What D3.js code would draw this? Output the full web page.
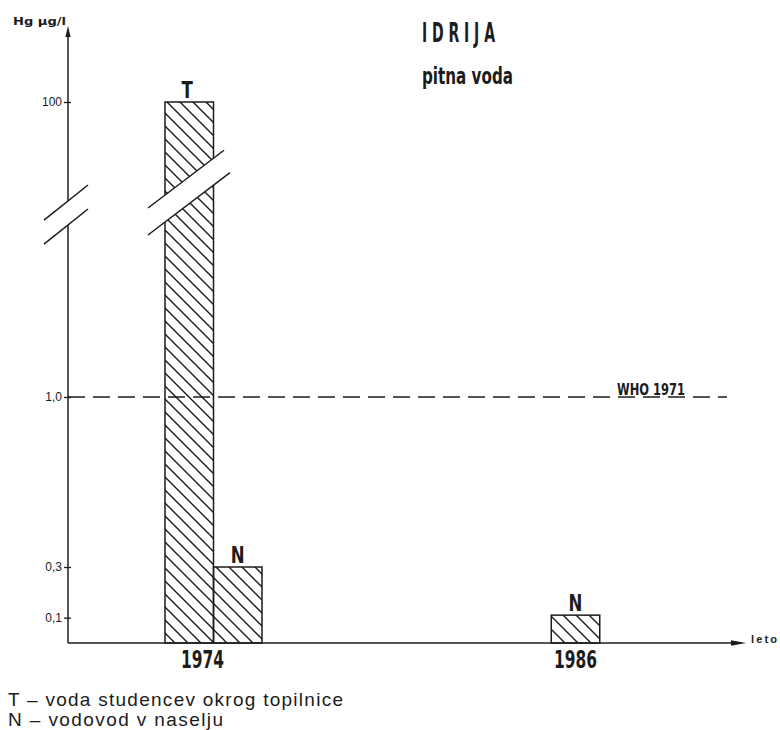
<!DOCTYPE html>
<html><head><meta charset="utf-8">
<script src="https://cdn.jsdelivr.net/npm/d3@7"></script>
<style>
html,body{margin:0;padding:0;background:#fff;}
svg{display:block;}
.cond{font-family:'Liberation Sans Narrow','DejaVu Sans Condensed','Roboto Condensed','Arial Narrow',sans-serif;font-weight:bold;fill:#1c1c1c;}
.reg{font-family:'Liberation Sans',Arial,Helvetica,sans-serif;fill:#1c1c1c;}
</style></head>
<body><svg id="c" width="780" height="730"></svg>
<script>
// ---- data ----
const years = [1974, 1986];
const seriesT = [100, null];     // T – voda studencev okrog topilnice
const seriesN = [0.3, 0.11];     // N – vodovod v naselju
const seriesNames = ["T", "N"];
const yTicks = [0.1, 0.3, 1.0, 100];
const whoLimit = 1.0;
const whoLabel = "WHO 1971";
const legendLines = ["T – voda studencev okrog topilnice", "N – vodovod v naselju"];

const svg = d3.select("#c");
const ink = "#1c1c1c";

// scales (broken y axis: linear 0–1, compressed 1–100)
const y = d3.scaleLinear().domain([0, 0.3, 1, 100]).range([643, 567, 397, 102]);
const x = d3.scaleLinear().domain([1974, 1986]).range([213.5, 575.5]);
const barW = 48.5;
const x0 = 68;

// hatch pattern
const defs = svg.append("defs");
const pat = defs.append("pattern").attr("id", "hatch").attr("patternUnits", "userSpaceOnUse")
  .attr("width", 13).attr("height", 13);
pat.append("path").attr("d", "M-2,-2L15,15M-2,11L2,15M11,-2L15,2")
  .attr("stroke", ink).attr("stroke-width", 1.4).attr("fill", "none");

// build bars
const bars = [];
years.forEach((yr, i) => {
  const vals = [seriesT[i], seriesN[i]];
  const present = vals.map((v, k) => ({v, name: seriesNames[k]})).filter(d => d.v != null);
  const n = present.length;
  present.forEach((d, k) => {
    const left = x(yr) - n * barW / 2 + k * barW;
    bars.push({year: yr, name: d.name, value: d.v, left});
  });
});

const gBars = svg.append("g");
gBars.selectAll("rect").data(bars).join("rect")
  .attr("x", d => d.left).attr("width", barW)
  .attr("y", d => y(d.value)).attr("height", d => y(0) - y(d.value))
  .attr("fill", "url(#hatch)").attr("stroke", ink).attr("stroke-width", 1.5);

svg.append("g").selectAll("text").data(bars).join("text")
  .attr("class", "cond")
  .attr("transform", d => `translate(${d.left + barW / 2 + (d.name === "T" ? -2 : 0)},${y(d.value) - 4}) scale(0.8,1)`)
  .attr("text-anchor", "middle").attr("font-size", 23)
  .text(d => d.name);

// break marks
function breakMark(cx, cyU, gap, slope, xa, xb, xbL) {
  const yu = xx => cyU + slope * (xx - cx);
  const yl = xx => cyU + gap + slope * (xx - cx);
  svg.append("path")
    .attr("d", `M${xa},${yu(xa)}L${xb},${yu(xb)}L${xbL},${yl(xbL)}L${xa},${yl(xa)}Z`)
    .attr("fill", "#fff").attr("stroke", "none");
  svg.append("line").attr("x1", xa).attr("y1", yu(xa)).attr("x2", xb).attr("y2", yu(xb))
    .attr("stroke", ink).attr("stroke-width", 1.5);
  svg.append("line").attr("x1", xa).attr("y1", yl(xa)).attr("x2", xbL).attr("y2", yl(xbL))
    .attr("stroke", ink).attr("stroke-width", 1.5);
}

// axes
svg.append("line").attr("x1", x0).attr("x2", x0).attr("y1", y(0)).attr("y2", 30)
  .attr("stroke", ink).attr("stroke-width", 1.5);
svg.append("path").attr("d", `M${x0},26L${x0-2.6},37L${x0+2.6},37Z`).attr("fill", ink);
svg.append("line").attr("x1", x0).attr("x2", 740).attr("y1", y(0)).attr("y2", y(0))
  .attr("stroke", ink).attr("stroke-width", 1.5);
svg.append("path").attr("d", `M746,${y(0)}L731,${y(0)-2.8}L731,${y(0)+2.8}Z`).attr("fill", ink);

const yAxis = d3.axisLeft(y).tickValues(yTicks).tickSize(4).tickPadding(2)
  .tickFormat(d => d >= 100 ? d3.format("d")(d) : d3.format(".1f")(d).replace(".", ","));
const ga = svg.append("g").attr("transform", `translate(${x0},0)`).call(yAxis);
ga.select(".domain").remove();
ga.selectAll(".tick line").attr("x1", 3).attr("stroke", ink).attr("stroke-width", 1.3);
ga.selectAll(".tick text").attr("class", "reg").attr("font-size", 12)
  .attr("font-family", "'Liberation Sans',Arial,sans-serif").attr("fill", ink);

// breaks
breakMark(68, 201, 24, -0.8, 44, 88, 88);
breakMark(148, 208, 27, -0.76, 148, 224, 230);

// WHO line
svg.append("line").attr("x1", x0).attr("x2", 727).attr("y1", y(whoLimit)).attr("y2", y(whoLimit))
  .attr("stroke", ink).attr("stroke-width", 1.4).attr("stroke-dasharray", "17,8");
svg.append("text").attr("class", "cond").attr("x", 617).attr("y", y(whoLimit) - 2)
  .attr("font-size", 15).attr("textLength", 68).attr("lengthAdjust", "spacingAndGlyphs")
  .text(whoLabel);

// year labels
svg.append("g").selectAll("text").data(years).join("text")
  .attr("class", "cond")
  .attr("x", d => x(d) + (d === 1974 ? -11 : 0))
  .attr("y", 668).attr("text-anchor", "middle").attr("font-size", 25)
  .attr("textLength", 43).attr("lengthAdjust", "spacingAndGlyphs")
  .text(d => d);

// axis labels
svg.append("text").attr("class", "cond").attr("x", 13).attr("y", 25).attr("font-size", 11)
  .attr("textLength", 53).attr("lengthAdjust", "spacingAndGlyphs").text("Hg µg/l");
svg.append("text").attr("class", "reg").attr("x", 751).attr("y", 643).attr("font-size", 11)
  .attr("font-weight", "bold")
  .attr("textLength", 26).attr("lengthAdjust", "spacing").text("leto");

// title
svg.append("text").attr("class", "cond").attr("transform", "translate(422,42) scale(0.6,1)")
  .attr("font-size", 26).attr("textLength", 73 / 0.6).attr("lengthAdjust", "spacing").text("IDRIJA");
svg.append("text").attr("class", "cond").attr("x", 422).attr("y", 84).attr("font-size", 23)
  .attr("textLength", 91).attr("lengthAdjust", "spacingAndGlyphs").text("pitna voda");

// legend
svg.append("g").selectAll("text").data(legendLines).join("text")
  .attr("class", "reg").attr("x", 8).attr("y", (d, i) => 706 + i * 20)
  .attr("font-size", 19).attr("fill", "#333")
  .attr("textLength", (d, i) => i === 0 ? 335 : 215).attr("lengthAdjust", "spacing")
  .text(d => d);
</script></body></html>
